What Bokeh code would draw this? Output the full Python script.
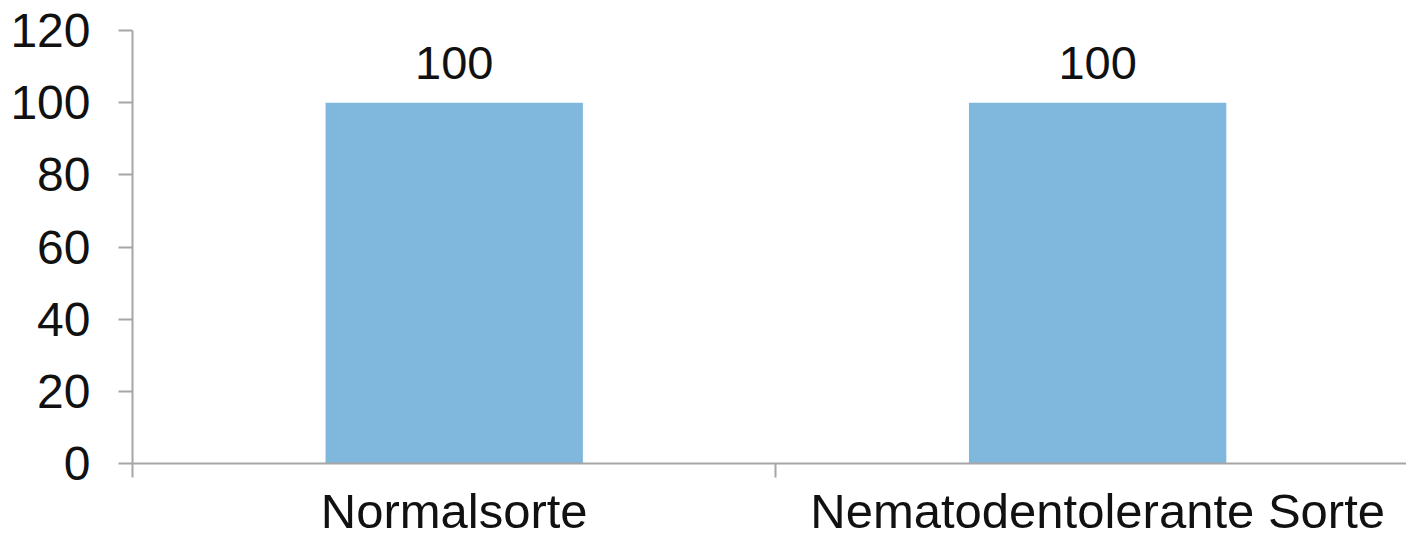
from bokeh.plotting import figure
from bokeh.models import Range1d, FixedTicker, ColumnDataSource
from bokeh.core.properties import value
from bokeh.embed import file_html
from bokeh.resources import INLINE

categories = ["Normalsorte", "Nematodentolerante Sorte"]
values = [100, 100]
y_ticks = [0, 20, 40, 60, 80, 100, 120]

FONT = "Liberation Sans"
BAR = "#7fb7dd"
AXIS = "#a6a6a6"

xs = [i + 0.5 for i in range(len(categories))]
src = ColumnDataSource(dict(x=xs, top=values, label=[str(v) for v in values]))

p = figure(width=1406, height=540, output_backend="svg", toolbar_location=None,
           x_range=Range1d(0, 1.98), y_range=Range1d(0, 120),
           min_border_left=132, min_border_top=30, min_border_bottom=77, min_border_right=0)
p.outline_line_color = None
p.xgrid.grid_line_color = None
p.ygrid.grid_line_color = None
p.background_fill_color = "white"
p.border_fill_color = "white"

p.vbar(x="x", top="top", bottom=0, width=0.4, source=src, fill_color=BAR, line_color=None)
p.text(x="x", y="top", text="label", source=src, text_align="center", text_baseline="alphabetic",
       y_offset=-40, text_font=value(FONT), text_font_size="47px", text_color="#111111")

xa = p.xaxis[0]
xa.ticker = FixedTicker(ticks=xs, minor_ticks=list(range(len(categories) + 1)))
xa.major_label_overrides = {x: c for x, c in zip(xs, categories)}
xa.major_tick_out = 0
xa.major_tick_in = 0
xa.minor_tick_out = 14
xa.minor_tick_in = 0
xa.minor_tick_line_color = AXIS
xa.axis_line_color = AXIS
xa.axis_line_width = 2
xa.minor_tick_line_width = 2
xa.major_label_standoff = 6
xa.major_label_text_font = FONT
xa.major_label_text_font_size = "49px"
xa.major_label_text_color = "#111111"
xa.major_label_text_baseline = "middle"

ya = p.yaxis[0]
ya.ticker = FixedTicker(ticks=y_ticks)
ya.major_tick_out = 14
ya.major_tick_in = 0
ya.minor_tick_line_color = None
ya.major_tick_line_color = AXIS
ya.major_tick_line_width = 2
ya.axis_line_color = AXIS
ya.axis_line_width = 2
ya.major_label_standoff = 28
ya.major_label_text_font = FONT
ya.major_label_text_font_size = "48px"
ya.major_label_text_color = "#111111"

open("out.html", "w").write(file_html(p, INLINE))
